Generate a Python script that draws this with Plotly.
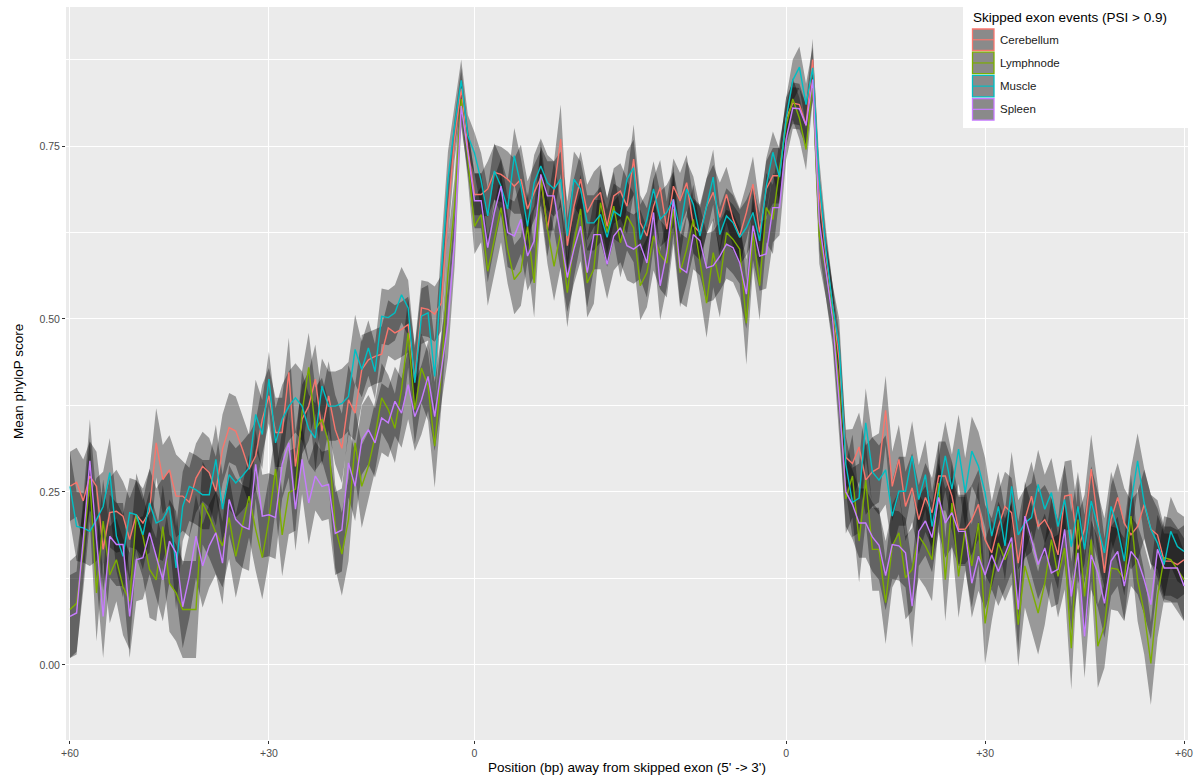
import plotly.graph_objects as go

# ---------------- data ----------------
tick_positions = [0, 30, 61, 108, 138, 168]
tick_labels = ["+60", "+30", "0", "0", "+30", "+60"]
y_tick_values = [0.0, 0.25, 0.5, 0.75]

series_names = ["Cerebellum", "Lymphnode", "Muscle", "Spleen"]
series_colors = ["#F8766D", "#7CAE00", "#00BFC4", "#C77CFF"]

cerebellum = [
    0.258, 0.264, 0.237, 0.273, 0.258, 0.167, 0.220, 0.222, 0.215, 0.181,
    0.217, 0.205, 0.222, 0.321, 0.268, 0.282, 0.244, 0.244, 0.235, 0.270,
    0.287, 0.278, 0.251, 0.312, 0.343, 0.338, 0.312, 0.283, 0.302, 0.355,
    0.389, 0.336, 0.336, 0.423, 0.287, 0.355, 0.374, 0.413, 0.338, 0.389,
    0.340, 0.313, 0.383, 0.364, 0.427, 0.441, 0.446, 0.449, 0.487, 0.480,
    0.485, 0.492, 0.412, 0.516, 0.514, 0.507, 0.523, 0.654, 0.760, 0.833,
    0.746, 0.680, 0.680, 0.688, 0.712, 0.709, 0.702, 0.692, 0.702, 0.659,
    0.683, 0.704, 0.630, 0.688, 0.760, 0.606, 0.663, 0.702, 0.654, 0.673,
    0.683, 0.634, 0.678, 0.685, 0.663, 0.731, 0.639, 0.620, 0.663, 0.690,
    0.630, 0.692, 0.671, 0.697, 0.635, 0.625, 0.663, 0.683, 0.647, 0.680,
    0.644, 0.620, 0.654, 0.695, 0.625, 0.688, 0.707, 0.707, 0.790, 0.812,
    0.810, 0.780, 0.875, 0.680, 0.590, 0.520, 0.440, 0.300, 0.291, 0.315,
    0.267, 0.279, 0.285, 0.368, 0.258, 0.297, 0.229, 0.256, 0.210, 0.242,
    0.220, 0.273, 0.273, 0.244, 0.196, 0.196, 0.210, 0.232, 0.181, 0.162,
    0.200, 0.229, 0.220, 0.147, 0.210, 0.244, 0.200, 0.210, 0.191, 0.159,
    0.244, 0.246, 0.167, 0.196, 0.283, 0.210, 0.133, 0.210, 0.242, 0.205,
    0.188, 0.200, 0.232, 0.196, 0.188, 0.150, 0.150, 0.145, 0.152,
]

lymphnode = [
    0.080, 0.089, 0.167, 0.268, 0.104, 0.208, 0.130, 0.152, 0.113, 0.092,
    0.217, 0.186, 0.138, 0.123, 0.200, 0.118, 0.104, 0.080, 0.080, 0.080,
    0.234, 0.215, 0.191, 0.172, 0.213, 0.157, 0.200, 0.244, 0.196, 0.155,
    0.210, 0.283, 0.188, 0.249, 0.254, 0.365, 0.430, 0.341, 0.355, 0.321,
    0.200, 0.160, 0.210, 0.321, 0.258, 0.287, 0.330, 0.386, 0.369, 0.342,
    0.398, 0.480, 0.369, 0.429, 0.403, 0.316, 0.422, 0.567, 0.663, 0.818,
    0.731, 0.634, 0.651, 0.569, 0.615, 0.661, 0.601, 0.557, 0.569, 0.634,
    0.552, 0.707, 0.630, 0.576, 0.625, 0.538, 0.610, 0.659, 0.552, 0.572,
    0.668, 0.625, 0.663, 0.610, 0.649, 0.632, 0.548, 0.567, 0.620, 0.593,
    0.581, 0.659, 0.567, 0.601, 0.644, 0.586, 0.523, 0.596, 0.552, 0.625,
    0.615, 0.601, 0.494, 0.625, 0.548, 0.661, 0.644, 0.717, 0.780, 0.818,
    0.790, 0.745, 0.846, 0.620, 0.570, 0.510, 0.400, 0.240, 0.273, 0.179,
    0.267, 0.167, 0.167, 0.090, 0.172, 0.191, 0.126, 0.138, 0.186, 0.172,
    0.152, 0.263, 0.123, 0.234, 0.128, 0.196, 0.143, 0.205, 0.060, 0.123,
    0.176, 0.152, 0.176, 0.058, 0.143, 0.109, 0.075, 0.118, 0.181, 0.128,
    0.169, 0.024, 0.210, 0.099, 0.181, 0.027, 0.056, 0.140, 0.138, 0.123,
    0.215, 0.123, 0.075, 0.002, 0.099, 0.155, 0.152, 0.138, 0.123,
]

muscle = [
    0.258, 0.200, 0.198, 0.193, 0.210, 0.229, 0.278, 0.186, 0.157, 0.220,
    0.217, 0.188, 0.234, 0.205, 0.210, 0.229, 0.140, 0.229, 0.258, 0.253,
    0.246, 0.246, 0.297, 0.225, 0.275, 0.263, 0.273, 0.285, 0.362, 0.333,
    0.413, 0.321, 0.355, 0.374, 0.386, 0.374, 0.341, 0.328, 0.403, 0.374,
    0.374, 0.378, 0.388, 0.456, 0.427, 0.458, 0.424, 0.504, 0.502, 0.509,
    0.535, 0.516, 0.408, 0.504, 0.509, 0.417, 0.567, 0.702, 0.779, 0.845,
    0.765, 0.740, 0.700, 0.649, 0.714, 0.692, 0.659, 0.736, 0.692, 0.634,
    0.697, 0.721, 0.697, 0.688, 0.702, 0.620, 0.702, 0.688, 0.639, 0.639,
    0.651, 0.618, 0.656, 0.649, 0.702, 0.719, 0.615, 0.644, 0.688, 0.644,
    0.654, 0.673, 0.627, 0.688, 0.666, 0.620, 0.663, 0.705, 0.622, 0.649,
    0.639, 0.618, 0.632, 0.654, 0.613, 0.692, 0.741, 0.705, 0.790, 0.845,
    0.864, 0.810, 0.863, 0.700, 0.600, 0.520, 0.460, 0.290, 0.235, 0.241,
    0.350, 0.279, 0.267, 0.282, 0.215, 0.251, 0.251, 0.302, 0.239, 0.275,
    0.200, 0.254, 0.302, 0.254, 0.312, 0.249, 0.309, 0.287, 0.249, 0.186,
    0.229, 0.172, 0.258, 0.188, 0.205, 0.213, 0.261, 0.225, 0.249, 0.200,
    0.239, 0.171, 0.229, 0.167, 0.237, 0.200, 0.162, 0.229, 0.196, 0.150,
    0.234, 0.295, 0.234, 0.196, 0.176, 0.145, 0.193, 0.171, 0.164,
]

spleen = [
    0.070, 0.075, 0.181, 0.295, 0.181, 0.070, 0.186, 0.174, 0.174, 0.070,
    0.152, 0.155, 0.191, 0.157, 0.123, 0.179, 0.162, 0.084, 0.128, 0.186,
    0.143, 0.172, 0.191, 0.147, 0.239, 0.210, 0.200, 0.196, 0.290, 0.215,
    0.217, 0.213, 0.290, 0.321, 0.225, 0.297, 0.234, 0.273, 0.258, 0.261,
    0.190, 0.195, 0.292, 0.258, 0.325, 0.340, 0.321, 0.357, 0.350, 0.381,
    0.364, 0.405, 0.359, 0.383, 0.417, 0.359, 0.427, 0.494, 0.615, 0.808,
    0.741, 0.671, 0.671, 0.603, 0.654, 0.692, 0.625, 0.620, 0.644, 0.591,
    0.613, 0.709, 0.678, 0.678, 0.620, 0.560, 0.601, 0.634, 0.567, 0.622,
    0.622, 0.579, 0.620, 0.632, 0.606, 0.601, 0.608, 0.581, 0.654, 0.548,
    0.596, 0.673, 0.574, 0.567, 0.622, 0.613, 0.574, 0.577, 0.591, 0.608,
    0.603, 0.581, 0.536, 0.635, 0.591, 0.594, 0.661, 0.661, 0.760, 0.805,
    0.804, 0.780, 0.846, 0.640, 0.570, 0.500, 0.380, 0.250, 0.232, 0.205,
    0.205, 0.185, 0.173, 0.129, 0.174, 0.172, 0.162, 0.085, 0.193, 0.208,
    0.184, 0.242, 0.205, 0.220, 0.193, 0.193, 0.118, 0.157, 0.130, 0.159,
    0.135, 0.159, 0.184, 0.080, 0.215, 0.181, 0.145, 0.169, 0.133, 0.138,
    0.196, 0.099, 0.162, 0.041, 0.159, 0.133, 0.089, 0.150, 0.164, 0.114,
    0.164, 0.152, 0.123, 0.087, 0.167, 0.140, 0.140, 0.140, 0.114,
]

# confidence-band half widths (read from ribbon extents)
cerebellum_ci = [
    .05, .05, .06, .05, .05, .06, .05, .06, .05, .06,
    .05, .05, .06, .05, .05, .05, .06, .05, .05, .05,
    .05, .05, .05, .05, .05, .05, .05, .05, .05, .05,
    .04, .05, .05, .05, .05, .05, .05, .05, .05, .05,
    .05, .05, .05, .04, .05, .04, .04, .04, .04, .04,
    .04, .04, .05, .04, .04, .04, .04, .04, .03, .03,
    .03, .03, .03, .04, .04, .04, .04, .04, .05, .04,
    .04, .04, .04, .04, .05, .04, .04, .04, .04, .04,
    .04, .04, .04, .04, .04, .05, .04, .04, .04, .04,
    .04, .04, .04, .04, .04, .04, .04, .04, .05, .04,
    .04, .04, .04, .04, .04, .04, .04, .04, .03, .03,
    .03, .03, .03, .03, .03, .03, .04, .04, .05, .05,
    .05, .05, .05, .05, .05, .05, .05, .05, .05, .05,
    .05, .05, .05, .05, .05, .05, .05, .05, .05, .05,
    .05, .05, .05, .06, .05, .05, .05, .05, .05, .05,
    .05, .05, .05, .05, .05, .05, .05, .05, .05, .05,
    .05, .05, .05, .05, .05, .05, .05, .05, .05,
]

lymphnode_ci = [
    .07, .07, .06, .06, .07, .06, .07, .06, .07, .07,
    .06, .06, .07, .06, .06, .07, .07, .07, .07, .07,
    .06, .06, .06, .06, .06, .06, .06, .06, .06, .06,
    .06, .06, .06, .06, .06, .06, .05, .06, .06, .06,
    .06, .06, .06, .05, .06, .05, .05, .05, .05, .05,
    .05, .05, .05, .05, .05, .06, .05, .05, .04, .03,
    .03, .04, .04, .05, .05, .05, .05, .05, .05, .05,
    .05, .05, .05, .05, .05, .05, .05, .05, .05, .05,
    .05, .05, .05, .05, .05, .05, .05, .05, .05, .05,
    .05, .05, .05, .05, .05, .05, .05, .05, .05, .05,
    .05, .05, .06, .05, .05, .05, .05, .04, .03, .03,
    .03, .03, .03, .04, .04, .04, .05, .05, .06, .06,
    .06, .06, .06, .06, .06, .06, .06, .06, .06, .06,
    .06, .06, .06, .06, .06, .06, .06, .06, .06, .06,
    .06, .06, .06, .06, .06, .06, .06, .06, .06, .06,
    .06, .06, .06, .06, .06, .06, .06, .06, .06, .06,
    .06, .06, .06, .06, .06, .06, .06, .06, .06,
]

muscle_ci = [
    .05, .05, .05, .05, .06, .05, .05, .05, .06, .05,
    .05, .05, .05, .05, .06, .05, .06, .05, .05, .05,
    .05, .05, .05, .05, .05, .05, .05, .05, .05, .05,
    .04, .05, .05, .05, .05, .05, .05, .05, .04, .05,
    .05, .05, .05, .05, .04, .04, .04, .04, .04, .04,
    .04, .04, .05, .04, .04, .05, .04, .04, .03, .03,
    .03, .03, .04, .04, .04, .04, .04, .04, .04, .04,
    .04, .04, .04, .04, .04, .05, .04, .04, .04, .04,
    .04, .04, .04, .04, .04, .04, .05, .04, .04, .04,
    .04, .04, .04, .04, .04, .04, .04, .04, .04, .04,
    .04, .04, .04, .04, .04, .04, .03, .04, .03, .03,
    .03, .03, .03, .03, .03, .03, .04, .04, .05, .05,
    .05, .05, .05, .05, .05, .05, .05, .05, .05, .05,
    .05, .05, .05, .05, .05, .05, .05, .05, .05, .05,
    .05, .05, .05, .05, .05, .05, .05, .05, .05, .05,
    .05, .05, .05, .05, .05, .05, .05, .05, .05, .05,
    .05, .04, .05, .05, .05, .05, .05, .05, .05,
]

spleen_ci = [
    .06, .06, .06, .06, .06, .06, .06, .06, .06, .06,
    .06, .06, .06, .06, .06, .06, .06, .06, .06, .06,
    .06, .06, .06, .06, .05, .06, .06, .06, .05, .06,
    .06, .06, .05, .05, .06, .05, .06, .05, .05, .05,
    .06, .06, .05, .05, .05, .05, .05, .05, .05, .05,
    .05, .05, .05, .05, .05, .05, .05, .05, .04, .03,
    .03, .04, .04, .05, .05, .04, .05, .05, .05, .05,
    .05, .04, .05, .05, .05, .05, .05, .05, .05, .05,
    .05, .05, .05, .05, .05, .05, .05, .05, .05, .05,
    .05, .05, .05, .05, .05, .05, .05, .05, .05, .05,
    .05, .05, .05, .05, .05, .05, .05, .04, .03, .03,
    .03, .03, .03, .04, .04, .04, .05, .05, .05, .05,
    .05, .05, .05, .05, .05, .05, .05, .06, .05, .05,
    .05, .05, .05, .05, .05, .05, .05, .05, .05, .05,
    .05, .05, .05, .06, .05, .05, .05, .05, .05, .05,
    .05, .05, .05, .06, .05, .05, .05, .05, .05, .05,
    .05, .05, .05, .05, .05, .05, .05, .05, .05,
]

series_values = [cerebellum, lymphnode, muscle, spleen]
series_ci = [cerebellum_ci, lymphnode_ci, muscle_ci, spleen_ci]
positions = list(range(len(cerebellum)))

# ---------------- figure ----------------
FONT = "Liberation Sans, Arial, Helvetica, sans-serif"
W, H = 1200, 779
ML, MR, MT, MB = 66, 12, 7, 39
PW, PH = W - ML - MR, H - MT - MB

def px(x):
    return (x - ML) / PW

def py(y):
    return (H - MB - y) / PH

fig = go.Figure()

ribbon_fill = "rgba(0,0,0,0.35)"
for vals, ci in zip(series_values, series_ci):
    upper = [v + c for v, c in zip(vals, ci)]
    lower = [v - c for v, c in zip(vals, ci)]
    fig.add_trace(go.Scatter(
        x=positions + positions[::-1],
        y=upper + lower[::-1],
        fill="toself", fillcolor=ribbon_fill,
        line=dict(width=0), mode="lines",
        hoverinfo="skip", showlegend=False,
    ))

for name, vals, col in zip(series_names, series_values, series_colors):
    fig.add_trace(go.Scatter(
        x=positions, y=vals, mode="lines", name=name,
        line=dict(color=col, width=1.4), showlegend=False,
    ))

# manual ggplot-style legend
shapes = [dict(type="rect", xref="paper", yref="paper",
               x0=px(963), x1=px(1205), y0=py(128), y1=py(-3),
               fillcolor="white", line=dict(width=0), layer="above")]
annotations = [dict(text="Skipped exon events (PSI > 0.9)", xref="paper", yref="paper",
                    x=px(971), y=py(18), xanchor="left", yanchor="middle",
                    showarrow=False, font=dict(family=FONT, size=13.5, color="#000000"))]
key_top = 29
key_size = 21.5
key_step = 23.2
for k, (name, col) in enumerate(zip(series_names, series_colors)):
    t = key_top + k * key_step
    shapes.append(dict(type="rect", xref="paper", yref="paper",
                       x0=px(972.5), x1=px(972.5 + key_size), y0=py(t + key_size), y1=py(t),
                       fillcolor="#8A8A8A", line=dict(color=col, width=1.3), layer="above"))
    shapes.append(dict(type="line", xref="paper", yref="paper",
                       x0=px(972.5), x1=px(972.5 + key_size),
                       y0=py(t + key_size / 2), y1=py(t + key_size / 2),
                       line=dict(color=col, width=1.2), layer="above"))
    annotations.append(dict(text=name, xref="paper", yref="paper",
                            x=px(997.5), y=py(t + key_size / 2), xanchor="left", yanchor="middle",
                            showarrow=False, font=dict(family=FONT, size=11.5, color="#1A1A1A")))

# axis titles
annotations.append(dict(text="Position (bp) away from skipped exon (5' -> 3')", xref="paper", yref="paper",
                        x=0.5, y=py(768), xanchor="center", yanchor="middle", showarrow=False,
                        font=dict(family=FONT, size=13.5, color="#000000")))
annotations.append(dict(text="Mean phyloP score", xref="paper", yref="paper",
                        x=px(18), y=py(382), xanchor="center", yanchor="middle", showarrow=False,
                        textangle=-90, font=dict(family=FONT, size=13.5, color="#000000")))

fig.update_layout(
    width=W, height=H,
    margin=dict(l=ML, r=MR, t=MT, b=MB, pad=0),
    paper_bgcolor="white", plot_bgcolor="#EBEBEB",
    font=dict(family=FONT),
    shapes=shapes, annotations=annotations,
    showlegend=False,
    xaxis=dict(
        range=[-0.6, len(positions) - 1 + 0.6],
        tickmode="array", tickvals=tick_positions, ticktext=tick_labels,
        showgrid=True, gridcolor="white", gridwidth=1.1,
        zeroline=False, showline=False,
        ticks="outside", ticklen=3, tickwidth=1, tickcolor="#333333",
        tickfont=dict(family=FONT, size=10.5, color="#4D4D4D"),
    ),
    yaxis=dict(
        range=[-0.1086, 0.951],
        tickmode="array", tickvals=y_tick_values, tickformat=".2f",
        showgrid=True, gridcolor="white", gridwidth=1.1,
        zeroline=False, showline=False,
        ticks="outside", ticklen=3, tickwidth=1, tickcolor="#333333",
        tickfont=dict(family=FONT, size=10.5, color="#4D4D4D"),
        minor=dict(tickvals=[0.125, 0.375, 0.625, 0.875], showgrid=True,
                   gridcolor="white", gridwidth=0.55, ticks=""),
    ),
)

fig.write_html("out.html")
